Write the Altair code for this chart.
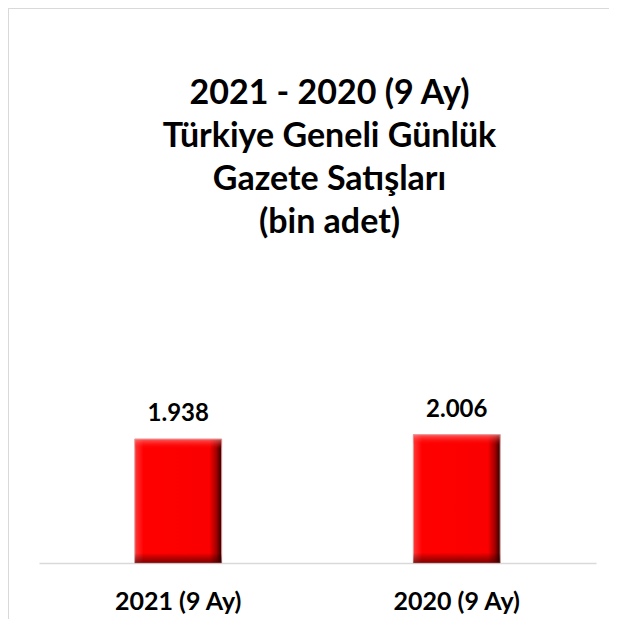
import altair as alt
import pandas as pd

categories = ["2021 (9 Ay)", "2020 (9 Ay)"]
values = [1938, 2006]
labels = ["1.938", "2.006"]
title_lines = ["2021 - 2020 (9 Ay)", "Türkiye Geneli Günlük", "Gazete Satışları", "(bin adet)"]

df = pd.DataFrame({"cat": categories, "val": values, "lab": labels})

FONT = "Lato"

x = alt.X("cat:N", sort=categories, title=None,
          scale=alt.Scale(paddingInner=0.688, paddingOuter=0.344),
          axis=alt.Axis(labelAngle=0, labelFont=FONT, labelFontSize=25, labelFontWeight="bold",
                        labelColor="#000000", labelPadding=26, ticks=False,
                        domainColor="#d9d9d9", domainWidth=1.5, grid=False))
y = alt.Y("val:Q", scale=alt.Scale(domain=[0, 3000]), axis=None, title=None)

grad_h = alt.LinearGradient(
    gradient="linear", x1=0, x2=1, y1=0, y2=0,
    stops=[alt.GradientStop(color="#ff3a3a", offset=0),
           alt.GradientStop(color="#ff0000", offset=0.1),
           alt.GradientStop(color="#fa0000", offset=0.86),
           alt.GradientStop(color="#a00000", offset=0.94),
           alt.GradientStop(color="#300000", offset=1)])
grad_v = alt.LinearGradient(
    gradient="linear", x1=0, x2=0, y1=0, y2=1,
    stops=[alt.GradientStop(color="rgba(255,150,150,0.65)", offset=0),
           alt.GradientStop(color="rgba(255,0,0,0)", offset=0.08),
           alt.GradientStop(color="rgba(0,0,0,0)", offset=0.92),
           alt.GradientStop(color="rgba(50,0,0,0.6)", offset=1)])

base = alt.Chart(df)

bars = base.mark_bar(color=grad_h, stroke="#dba0a0", strokeWidth=1).encode(x=x, y=y)
bevel = base.mark_bar(color=grad_v).encode(x=x, y=y)
text = base.mark_text(font=FONT, fontSize=24, fontWeight="bold", color="#000000",
                      baseline="alphabetic", dy=-18).encode(x=x, y=y, text="lab:N")
border_top = base.mark_rule(color="#d9d9d9", strokeWidth=1).encode(
    x=alt.value(-30.5), x2=alt.value(600), y=alt.value(-362.5))
border_left = base.mark_rule(color="#d9d9d9", strokeWidth=1).encode(
    x=alt.value(-30.5), y=alt.value(-362.5), y2=alt.value(400))

chart = alt.layer(border_top, border_left, bars, bevel, text).properties(
    width=557, height=192,
    autosize=alt.AutoSizeParams(type="none"),
    padding={"left": 31, "top": 363, "right": 13, "bottom": 56},
    background="#ffffff",
    title=alt.TitleParams(text=title_lines, font=FONT, fontSize=34, fontWeight="bold",
                          color="#000000", lineHeight=43, anchor="middle", offset=-232, dx=12),
).configure_view(strokeWidth=0, stroke="transparent")

chart.save("out.html", embed_options={"renderer": "svg", "actions": False})
